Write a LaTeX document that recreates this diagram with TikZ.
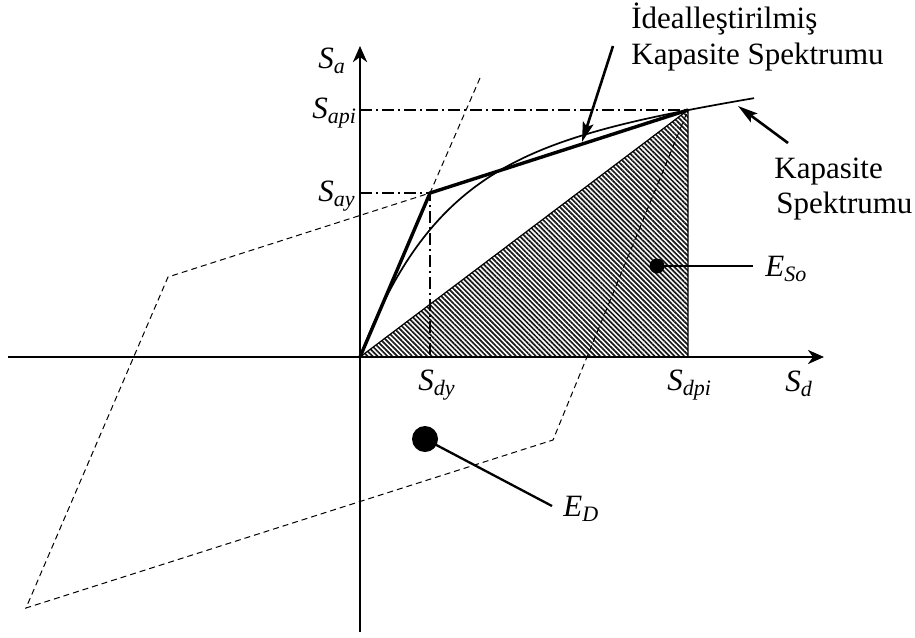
\documentclass[tikz,border=0pt]{standalone}
\usepackage{fontspec}
\setmainfont{Liberation Serif}
\usetikzlibrary{arrows.meta,patterns.meta}
\newcommand\subl[2]{\textit{#1}\raisebox{-2.5pt}{\fontsize{11}{11}\selectfont\textit{#2}}}
\begin{document}
\begin{tikzpicture}[x=0.5pt,y=-0.5pt,
  lbl/.style={inner sep=0pt, anchor=base west, font=\fontsize{15.5}{18}\selectfont},
  axisline/.style={line width=1.35pt, -{Stealth[length=8pt,width=7pt,inset=2.5pt]}},
  annot/.style={line width=1.3pt, -{Stealth[length=10pt,width=5.5pt,inset=2pt]}},
  thincurve/.style={line width=0.85pt},
  idealline/.style={line width=1.7pt, line join=miter},
  loopline/.style={line width=0.5pt, dash pattern=on 3pt off 2pt},
  guide/.style={line width=0.8pt, dash pattern=on 6pt off 2pt on 1pt off 2pt},
  dotnode/.style={circle, fill=black, inner sep=0pt},
  leader/.style={line width=1.15pt}]
\useasboundingbox (0,0) rectangle (915,637);
% key points
\coordinate (O) at (360,357);
\coordinate (Y) at (430,193);
\coordinate (P) at (688,110);
\coordinate (Pb) at (688,357);
\coordinate (Ya) at (360,193);
\coordinate (Pa) at (360,110);
\coordinate (Yd) at (430,357);
\coordinate (XL) at (8,357);
\coordinate (XR) at (824,357);
\coordinate (YB) at (360,632);
\coordinate (YT) at (360,46);
% hatched triangle
\fill[pattern={Lines[angle=-45,distance=1.75pt,line width=0.85pt]}, pattern color=black!90] (O) -- (P) -- (Pb) -- cycle;
\draw[line width=0.6pt] (O) -- (P) -- (Pb);
% dashed loop
\coordinate (L1) at (480,78);
\coordinate (L3) at (168,277);
\coordinate (L4) at (26,608);
\coordinate (L5) at (553,440);
\draw[loopline] (L1) -- (Y) -- (L3) -- (L4) -- (L5) -- (P);
% guides
\draw[guide] (Pa) -- (P);
\draw[guide] (Ya) -- (Y) -- (Yd);
% capacity curve
\draw[thincurve] plot[domain=0:394,samples=120] ({360+\x},{357-200*(1-exp(-\x/80))-0.153*\x});
% idealized
\draw[idealline] (O) -- (Y) -- (P);
% axes
\draw[axisline] (XL) -- (XR);
\draw[axisline] (YB) -- (YT);
% annotation arrows
\coordinate (iA) at (613,46);
\coordinate (iT) at (582,142);
\draw[annot] (iA) -- (iT);
\coordinate (kA) at (788,143);
\coordinate (kT) at (738,106);
\draw[annot] (kA) -- (kT);
% energy dots
\node[dotnode, minimum size=7.5pt] (dS) at (657,266) {};
\coordinate (eS) at (753,266);
\draw[leader] (dS.center) -- (eS);
\node[dotnode, minimum size=13pt] (dD) at (425,439) {};
\coordinate (eD) at (552,506);
\draw[leader] (dD.center) -- (eD);
% labels
\node[lbl] (la) at (318,68) {\subl{S}{a}};
\node[lbl] (lapi) at (312,118) {\subl{S}{api}};
\node[lbl] (lay) at (318,201) {\subl{S}{ay}};
\node[lbl] (ldy) at (418,390) {\subl{S}{dy}};
\node[lbl] (ldpi) at (667,390) {\subl{S}{dpi}};
\node[lbl] (ld) at (785,391) {\subl{S}{d}};
\node[lbl] (lES) at (765,276) {\subl{E}{So}};
\node[lbl] (lED) at (563,516) {\subl{E}{D}};
\node[lbl] (t1) at (631,28) {İdealleştirilmiş};
\node[lbl] (t2) at (631,64) {Kapasite Spektrumu};
\node[lbl] (k1) at (774,178) {Kapasite};
\node[lbl] (k2) at (776,213) {Spektrumu};
\end{tikzpicture}
\end{document}
